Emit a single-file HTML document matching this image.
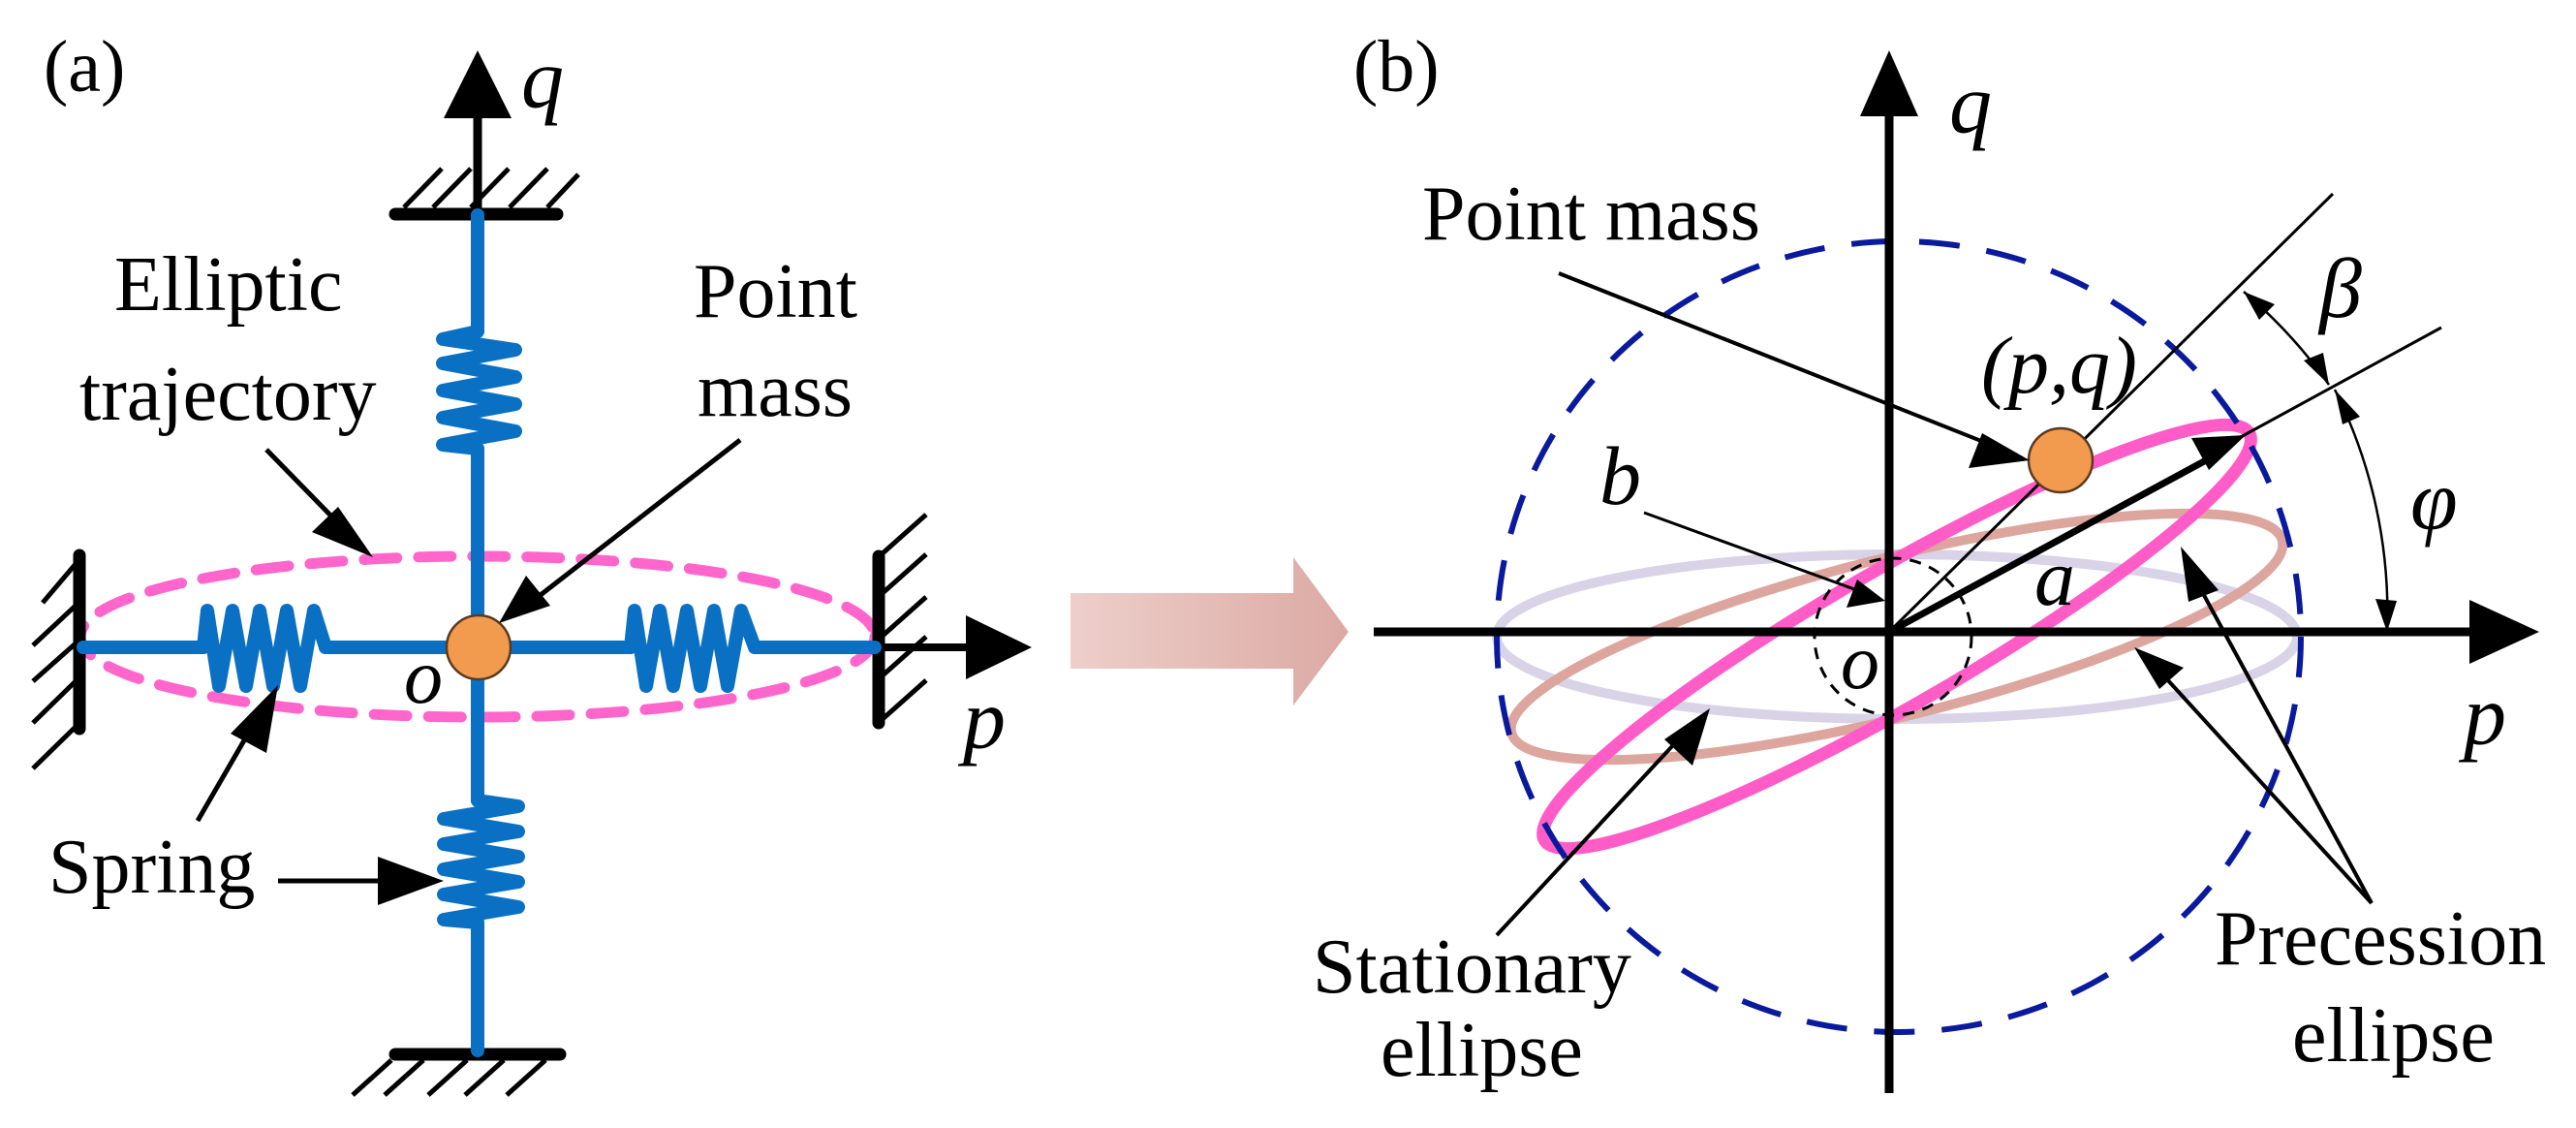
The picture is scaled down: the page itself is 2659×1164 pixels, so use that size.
<!DOCTYPE html>
<html><head><meta charset="utf-8"><style>
html,body{margin:0;padding:0;background:#fff;}
svg{display:block;}
text{font-family:"Liberation Serif",serif;fill:#000;}
.it{font-style:italic;}
</style></head><body>
<svg width="2659" height="1164" viewBox="0 0 2659 1164" xmlns="http://www.w3.org/2000/svg">
<defs>
<linearGradient id="ga" x1="0" x2="1" y1="0" y2="0">
<stop offset="0" stop-color="#edcfcb"/><stop offset="1" stop-color="#dca9a3"/>
</linearGradient>
</defs>

<!-- ===== Panel (a) ===== -->
<text x="45" y="94" font-size="76">(a)</text>

<!-- pink dashed ellipse -->
<ellipse cx="493" cy="657" rx="410" ry="83" fill="none" stroke="#ff66cc" stroke-width="11" stroke-dasharray="34 22" stroke-linecap="round"/>

<!-- q axis -->
<line x1="493" y1="216" x2="493" y2="115" stroke="#000" stroke-width="9"/>
<polygon points="493,52 458,122 528,122" fill="#000"/>
<text class="it" x="538" y="111" font-size="88">q</text>

<!-- top ground -->
<line x1="408" y1="221" x2="575" y2="221" stroke="#000" stroke-width="13" stroke-linecap="round"/>
<g stroke="#000" stroke-width="5">
<line x1="417" y1="214" x2="456" y2="174"/>
<line x1="447" y1="214" x2="486" y2="174"/>
<line x1="486" y1="214" x2="525" y2="174"/>
<line x1="526" y1="214" x2="565" y2="174"/>
<line x1="565" y1="214" x2="597" y2="180"/>
</g>

<!-- bottom ground -->
<line x1="408" y1="1088" x2="578" y2="1088" stroke="#000" stroke-width="13" stroke-linecap="round"/>
<g stroke="#000" stroke-width="5">
<line x1="404" y1="1094" x2="364" y2="1130"/>
<line x1="437" y1="1094" x2="397" y2="1130"/>
<line x1="482" y1="1094" x2="442" y2="1130"/>
<line x1="520" y1="1094" x2="480" y2="1130"/>
<line x1="563" y1="1094" x2="523" y2="1130"/>
</g>

<!-- left wall -->
<line x1="82" y1="573" x2="82" y2="752" stroke="#000" stroke-width="13" stroke-linecap="round"/>
<g stroke="#000" stroke-width="5">
<line x1="78" y1="582" x2="44" y2="622"/>
<line x1="78" y1="625" x2="34" y2="666"/>
<line x1="78" y1="664" x2="34" y2="703"/>
<line x1="78" y1="703" x2="34" y2="746"/>
<line x1="78" y1="750" x2="34" y2="793"/>
</g>

<!-- right wall -->
<line x1="907" y1="574" x2="907" y2="746" stroke="#000" stroke-width="13" stroke-linecap="round"/>
<g stroke="#000" stroke-width="5">
<line x1="911" y1="571" x2="956" y2="531"/>
<line x1="911" y1="612" x2="956" y2="572"/>
<line x1="911" y1="656" x2="956" y2="616"/>
<line x1="911" y1="697" x2="956" y2="657"/>
<line x1="911" y1="742" x2="956" y2="702"/>
</g>

<!-- p axis left -->
<line x1="907" y1="668" x2="1005" y2="668" stroke="#000" stroke-width="8"/>
<polygon points="1065,668 997,635 997,701" fill="#000"/>
<text class="it" x="994" y="772" font-size="88">p</text>

<!-- blue lines -->
<g stroke="#0a70c4" stroke-width="14" fill="none" stroke-linecap="round" stroke-linejoin="round">
<line x1="493" y1="222" x2="493" y2="342"/>
<line x1="493" y1="463" x2="493" y2="826"/>
<line x1="493" y1="952" x2="493" y2="1084"/>
<line x1="86" y1="668" x2="210" y2="668"/>
<line x1="336" y1="668" x2="651" y2="668"/>
<line x1="779" y1="668" x2="903" y2="668"/>
<!-- upper spring -->
<polyline points="493,342 457,350 532,361 457,375 532,389 457,403 532,417 457,431 532,445 457,459 493,463"/>
<!-- lower spring -->
<polyline points="493,826 535,832 458,845 535,858 458,871 535,884 458,897 535,910 458,923 535,936 458,949 493,952"/>
<!-- left spring -->
<polyline points="210,668 214,630 226,708 240,630 254,708 268,630 282,708 296,630 310,708 324,630 336,668"/>
<!-- right spring -->
<polyline points="651,668 655,630 667,708 681,630 695,708 709,630 723,708 737,630 751,708 765,630 779,668"/>
</g>

<!-- mass -->
<circle cx="494" cy="668" r="33" fill="#f29a4e" stroke="#5a3a20" stroke-width="2.5"/>
<text class="it" x="417" y="725" font-size="80">o</text>

<!-- labels (a) -->
<text x="118" y="320" font-size="80">Elliptic</text>
<text x="82" y="433" font-size="80">trajectory</text>
<line x1="275" y1="464" x2="360" y2="551" stroke="#000" stroke-width="5"/>
<polygon points="385,575 322,549 349,523" fill="#000"/>

<text x="716" y="327" font-size="80">Point</text>
<text x="720" y="429" font-size="80">mass</text>
<line x1="764" y1="454" x2="545" y2="624" stroke="#000" stroke-width="5"/>
<polygon points="515,643 543,594 568,625" fill="#000"/>

<text x="50" y="921" font-size="80">Spring</text>
<line x1="204" y1="847" x2="270" y2="733" stroke="#000" stroke-width="5"/>
<polygon points="287,707 275,777 238,757" fill="#000"/>
<line x1="287" y1="909" x2="400" y2="909" stroke="#000" stroke-width="5"/>
<polygon points="458,909 390,884 390,934" fill="#000"/>

<!-- big arrow -->
<polygon points="1105,612 1335,612 1335,575 1392,652 1335,728 1335,690 1105,690" fill="url(#ga)"/>

<!-- ===== Panel (b) ===== -->
<text x="1397" y="94" font-size="76">(b)</text>

<!-- ellipses -->
<ellipse cx="1958" cy="657" rx="413" ry="85" fill="none" stroke="#d9d3e8" stroke-width="10"/>
<ellipse cx="1958" cy="657" rx="410" ry="82" fill="none" stroke="#dca69e" stroke-width="10" transform="rotate(-14 1958 657)"/>
<ellipse cx="1958" cy="657" rx="420" ry="70" fill="none" stroke="#ff5cc8" stroke-width="13" transform="rotate(-30 1958 657)"/>

<!-- dashed circle -->
<ellipse cx="1960" cy="657" rx="415" ry="408" fill="none" stroke="#0a1a9c" stroke-width="6" stroke-dasharray="42 28"/>
<circle cx="1954" cy="657" r="81" fill="none" stroke="#000" stroke-width="3" stroke-dasharray="12 9"/>

<!-- axes -->
<line x1="1950" y1="1128" x2="1950" y2="110" stroke="#000" stroke-width="9"/>
<polygon points="1950,52 1920,120 1980,120" fill="#000"/>
<text class="it" x="2012" y="137" font-size="88">q</text>
<line x1="1418" y1="652" x2="2555" y2="652" stroke="#000" stroke-width="9"/>
<polygon points="2621,652 2549,619 2549,685" fill="#000"/>
<text class="it" x="2543" y="768" font-size="88">p</text>

<!-- rays -->
<line x1="1950" y1="652" x2="2408" y2="200" stroke="#000" stroke-width="3"/>
<line x1="2300" y1="458" x2="2520" y2="338" stroke="#000" stroke-width="3"/>
<line x1="1950" y1="652" x2="2290" y2="468" stroke="#000" stroke-width="7"/>
<polygon points="2318,449 2262,452 2280,485" fill="#000"/>

<!-- arcs -->
<path d="M 2316,301 A 510 510 0 0 1 2404,397" fill="none" stroke="#000" stroke-width="2.5"/>
<path d="M 2410,402 A 515 515 0 0 1 2464,652" fill="none" stroke="#000" stroke-width="2.5"/>
<polygon points="2316,301 2348,314 2332,330" fill="#000"/>
<polygon points="2404,397 2378,372 2398,364" fill="#000"/>
<polygon points="2410,402 2418,438 2436,430" fill="#000"/>
<polygon points="2464,652 2452,618 2474,620" fill="#000"/>
<text class="it" x="2394" y="327" font-size="88">β</text>
<text class="it" x="2488" y="546" font-size="88">φ</text>

<!-- mass -->
<circle cx="2127" cy="475" r="33" fill="#f29a4e" stroke="#5a3a20" stroke-width="2.5"/>
<text class="it" x="2045" y="405" font-size="84">(p,q)</text>

<text x="1468" y="247" font-size="80">Point mass</text>
<line x1="1609" y1="282" x2="2060" y2="461" stroke="#000" stroke-width="4"/>
<polygon points="2095,475 2032,483 2046,447" fill="#000"/>

<text class="it" x="1651" y="520" font-size="86">b</text>
<line x1="1697" y1="529" x2="1925" y2="612" stroke="#000" stroke-width="3"/>
<polygon points="1946,620 1906,627 1917,598" fill="#000"/>

<text class="it" x="1900" y="710" font-size="80">o</text>
<text class="it" x="2100" y="624" font-size="84">a</text>

<text x="1355" y="1024" font-size="80">Stationary</text>
<text x="1425" y="1110" font-size="80">ellipse</text>
<line x1="1545" y1="965" x2="1740" y2="755" stroke="#000" stroke-width="4"/>
<polygon points="1765,731 1747,790 1718,763" fill="#000"/>

<text x="2286" y="995" font-size="80">Precession</text>
<text x="2366" y="1095" font-size="80">ellipse</text>
<line x1="2448" y1="932" x2="2225" y2="688" stroke="#000" stroke-width="4"/>
<polygon points="2203,668 2254,689 2229,711" fill="#000"/>
<line x1="2448" y1="932" x2="2264" y2="594" stroke="#000" stroke-width="4"/>
<polygon points="2251,564 2290,609 2259,621" fill="#000"/>
</svg>
</body></html>
